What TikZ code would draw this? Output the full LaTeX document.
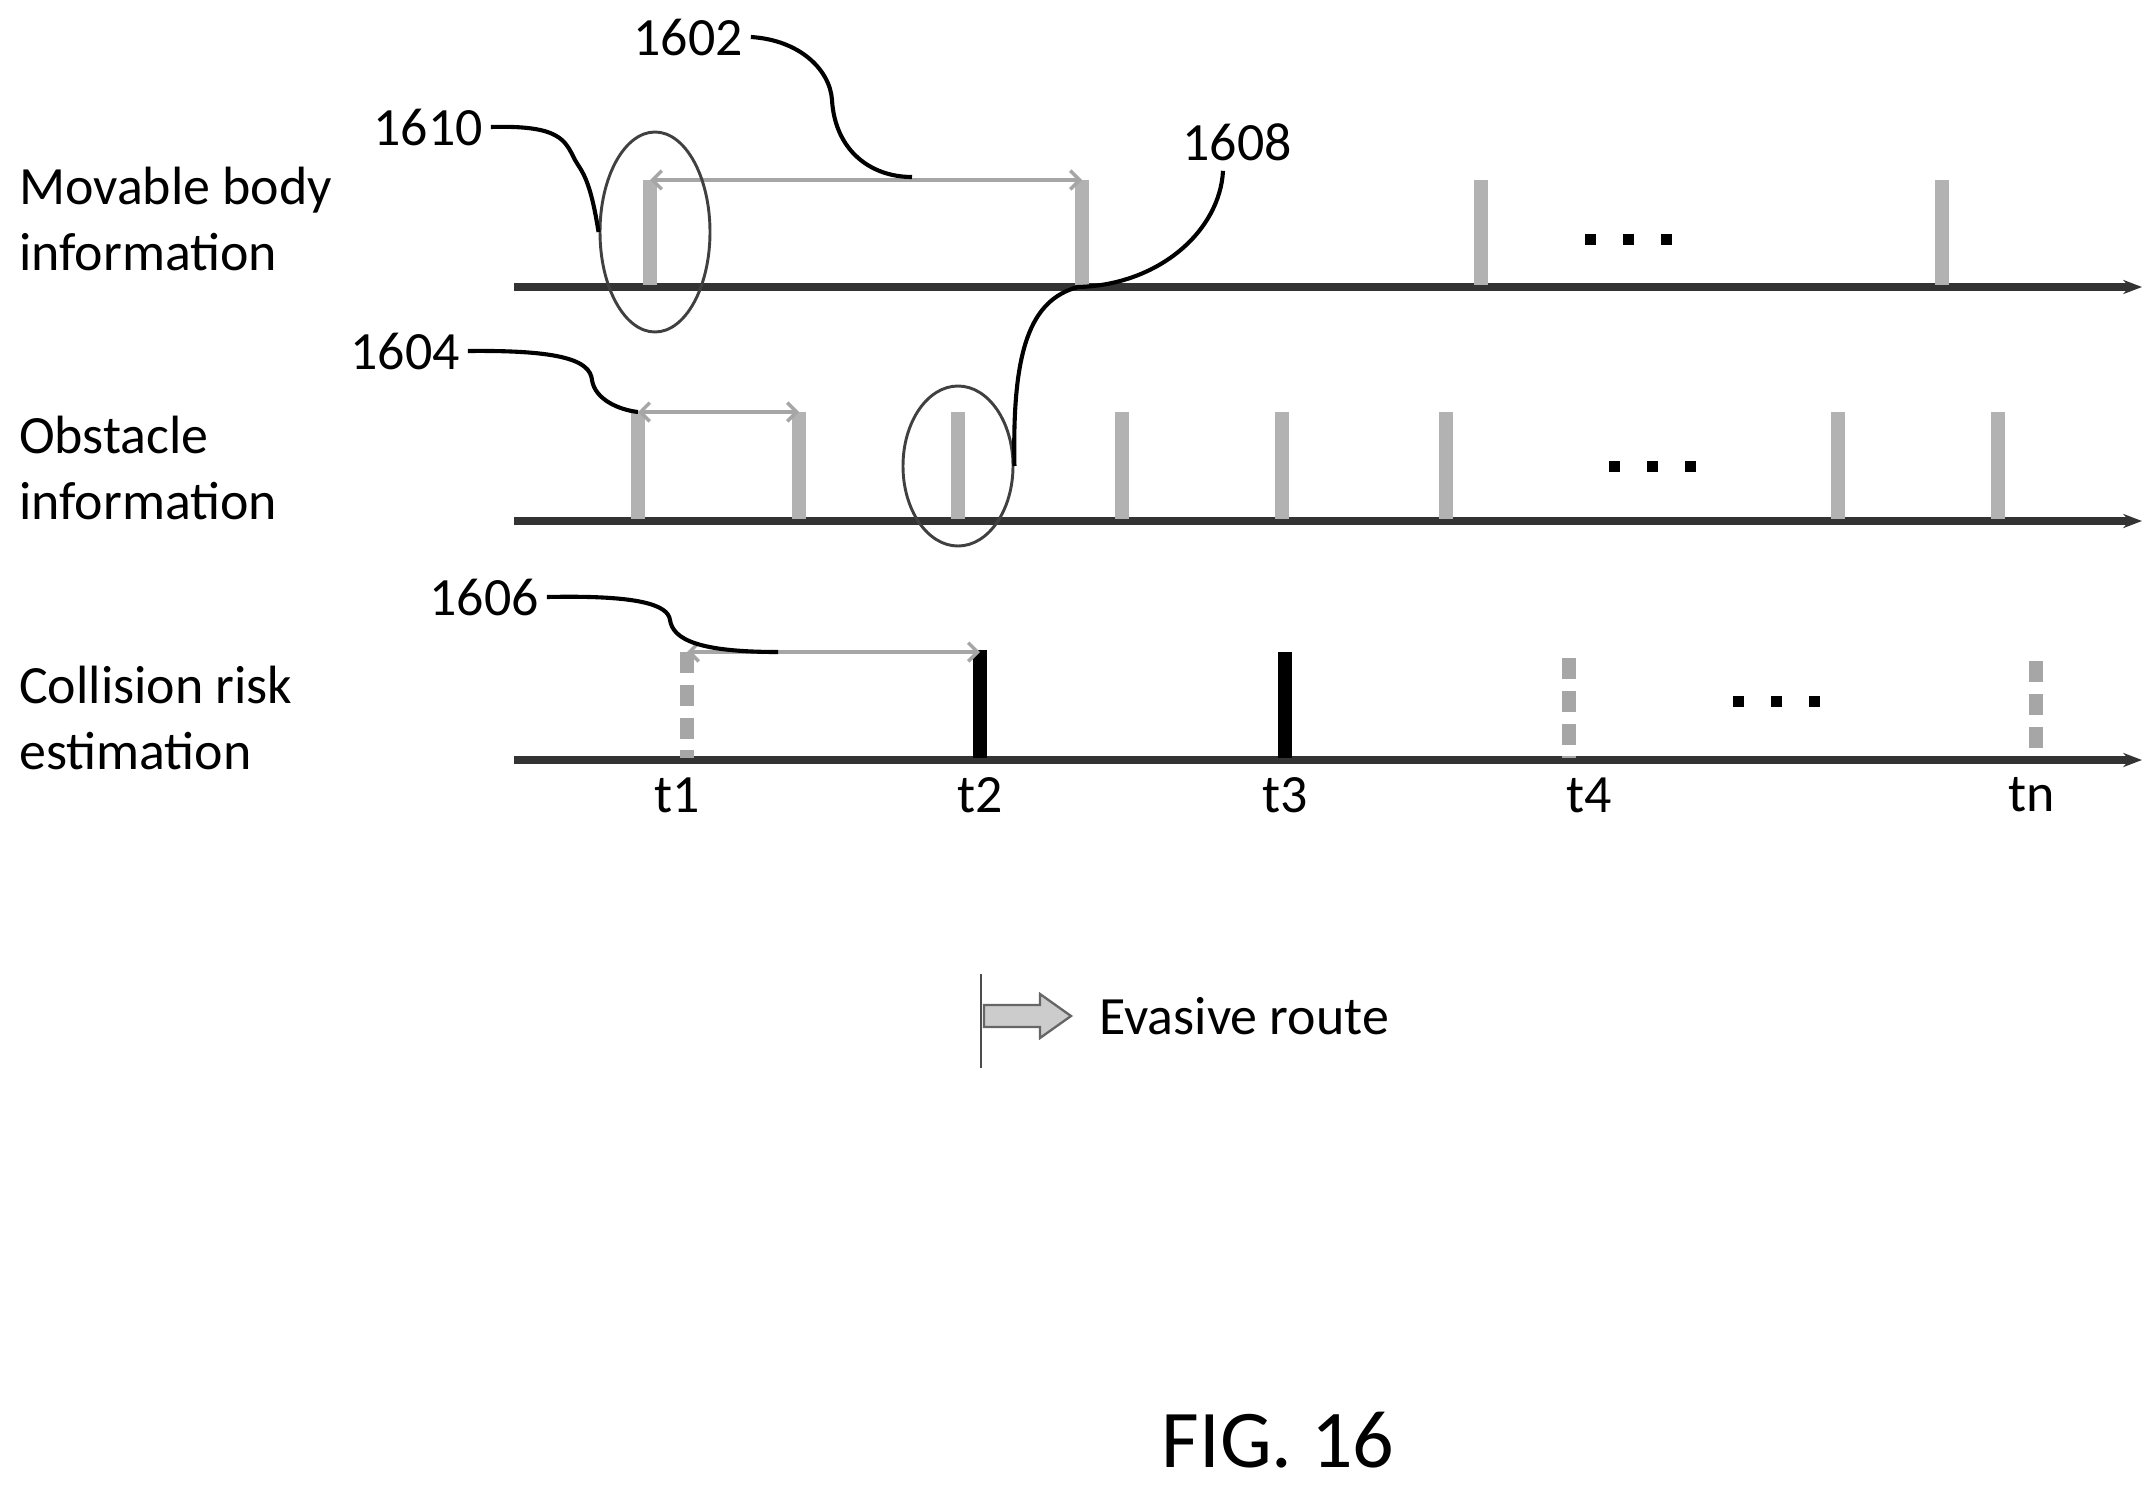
\documentclass[tikz,border=0pt]{standalone}
\usepackage{fontspec}
\setmainfont{Carlito}
\usetikzlibrary{arrows.meta,shapes.geometric}
\begin{document}
\begin{tikzpicture}[x=0.3mm,y=-0.3mm,
 axis/.style={line width=6pt,black!80,-{Stealth[length=16pt,width=12pt]}},
 gbar/.style={line width=12pt,black!30},
 kbar/.style={line width=12pt,black},
 dbar/.style={line width=12pt,black!35,dash pattern=on 18pt off 10pt},
 dim/.style={line width=3pt,black!35,{Straight Barb[length=8pt]}-{Straight Barb[length=8pt]}},
 lead/.style={line width=3.5pt,black},
 dot/.style={fill=black,minimum size=3.3mm,inner sep=0pt,draw=none,rectangle},
 lbl/.style={font=\fontsize{46}{50}\selectfont,inner sep=0pt},
 txt/.style={font=\fontsize{46}{56}\selectfont,inner sep=0pt,anchor=west,align=left},
 ell/.style={draw,black!75,line width=2.5pt,ellipse,inner sep=0pt}]
\useasboundingbox (0,0) rectangle (2156,1487);
% axes
\coordinate (a1s) at (514,287); \coordinate (a1e) at (2142,287);
\coordinate (a2s) at (514,521); \coordinate (a2e) at (2142,521);
\coordinate (a3s) at (514,760); \coordinate (a3e) at (2142,760);
\draw[axis] (a1s) -- (a1e);
\draw[axis] (a2s) -- (a2e);
\draw[axis] (a3s) -- (a3e);
% labels
\node[txt] (l1) at (19,219) {Movable body\\information};
\node[txt] (l2) at (19,468) {Obstacle\\information};
\node[txt] (l3) at (19,718) {Collision risk\\estimation};
% row 1 bars
\foreach \x in {650,1082,1481,1942} \draw[gbar] (\x,180) -- (\x,285);
\foreach \x in {1590,1628,1666} \node[dot] at (\x,239) {};
\draw[dim] (650,180) -- (1082,180);
% row 2 bars
\foreach \x in {638,799,958,1122,1282,1446,1838,1998} \draw[gbar] (\x,412) -- (\x,519);
\foreach \x in {1614,1652,1690} \node[dot] at (\x,466) {};
\draw[dim] (638,412) -- (799,412);
% row 3
\draw[dbar] (687,652) -- (687,758);
\draw[kbar] (980,650) -- (980,758);
\draw[kbar] (1285,652) -- (1285,758);
\draw[dbar] (1569,658) -- (1569,758);
\draw[dbar] (2036,661) -- (2036,758);
\foreach \x in {1738,1776,1814} \node[dot] at (\x,701) {};
\draw[dim] (687,652) -- (980,652);
% ticks
\foreach \x/\t in {677/t1,980/t2,1285/t3,1589/t4,2032/tn} \node[lbl] at (\x,795) {\t};
% ellipses
\node[ell,minimum width=33mm,minimum height=60mm] (e1) at (655,232) {};
\node[ell,minimum width=33mm,minimum height=48mm] (e2) at (958,466) {};
% reference labels
\node[lbl] (n1610) at (428,127) {1610};
\node[lbl] (n1602) at (688,37) {1602};
\node[lbl] (n1608) at (1237,142) {1608};
\node[lbl] (n1604) at (405,351) {1604};
\node[lbl] (n1606) at (484,597) {1606};
\draw[lead] (n1610.east) ++(8,0) .. controls (560,125) and (565,140) .. (575,160) .. controls (582,172) and (590,178) .. (e1.west);
\draw[lead] (n1602.east) ++(8,0) .. controls (800,40) and (830,70) .. (832,100) .. controls (835,150) and (870,177) .. (912,177);
\draw[lead] (n1608.south) ++(-14,10) .. controls (1220,230) and (1160,285) .. (1078,287) .. controls (1030,300) and (1012,350) .. (e2.east);
\draw[lead] (n1604.east) ++(8,0) .. controls (560,350) and (590,360) .. (592,380) .. controls (595,400) and (620,410) .. (638,412);
\draw[lead] (n1606.east) ++(8,0) .. controls (640,595) and (668,605) .. (670,620) .. controls (673,640) and (700,652) .. (778,652);
% legend
\coordinate (lv1) at (981,974); \coordinate (lv2) at (981,1068);
\draw[line width=2.5pt,black!70] (lv1) -- (lv2);
\draw[black!60,fill=black!20,line width=2pt] (984,1005) -- (1040,1005) -- (1040,994) -- (1071,1016) -- (1040,1038) -- (1040,1027) -- (984,1027) -- cycle;
\node[txt] (legt) at (1099,1016) {Evasive route};
\node[font=\fontsize{70}{76}\selectfont,inner sep=0pt] (fig) at (1278,1440) {FIG. 16};
\end{tikzpicture}
\end{document}
